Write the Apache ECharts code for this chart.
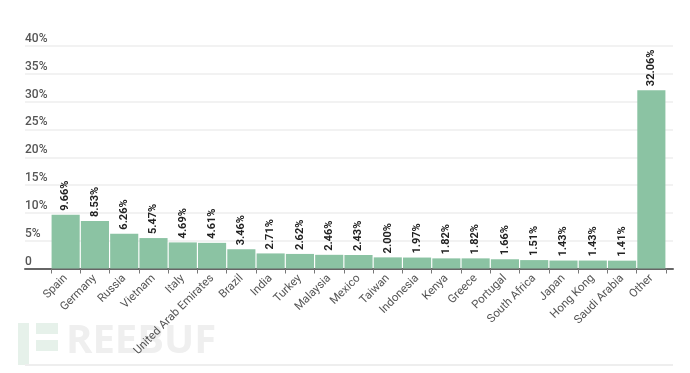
<!DOCTYPE html>
<html><head><meta charset="utf-8">
<script src="https://cdn.jsdelivr.net/npm/echarts@6/dist/echarts.min.js"></script>
<style>html,body{margin:0;padding:0;background:#fff}#c{width:690px;height:373px}</style>
</head><body><div id="c"></div>
<script>
const categories = ["Spain","Germany","Russia","Vietnam","Italy","United Arab Emirates","Brazil","India","Turkey","Malaysia","Mexico","Taiwan","Indonesia","Kenya","Greece","Portugal","South Africa","Japan","Hong Kong","Saudi Arabia","Other"];
const shares = [9.66,8.53,6.26,5.47,4.69,4.61,3.46,2.71,2.62,2.46,2.43,2.00,1.97,1.82,1.82,1.66,1.51,1.43,1.43,1.41,32.06];
const yTicks = [0,5,10,15,20,25,30,35,40];

const chart = echarts.init(document.getElementById('c'), null, {renderer:'canvas'});
const FONT = 'Roboto, "DejaVu Sans", sans-serif';
chart.setOption({
  animation:false,
  grid:[
    {left:25, right:17, top:46, bottom:104.5},
    {left:51, right:24, top:46, bottom:104.5}
  ],
  xAxis:[
    {gridIndex:0, type:'value', min:0, max:1, show:true,
     axisLine:{show:true, lineStyle:{color:'#666', width:2}},
     axisTick:{show:false}, axisLabel:{show:false}, splitLine:{show:false}},
    {gridIndex:1, type:'category', data:categories,
     axisLine:{show:false},
     axisTick:{show:true, length:5, lineStyle:{color:'#777', width:1}},
     axisLabel:{rotate:45, color:'#555', fontSize:11.5, fontFamily:FONT, margin:8, interval:0}}
  ],
  yAxis:[
    {gridIndex:0, type:'value', min:yTicks[0], max:yTicks[yTicks.length-1], interval:5,
     axisLine:{show:false}, axisTick:{show:false},
     splitLine:{lineStyle:{color:'#eeeeee', width:1.5}},
     axisLabel:{inside:true, margin:0, align:'left', verticalAlign:'bottom', padding:[0,0,1,0],
       color:'#555', fontSize:12, fontWeight:500, fontFamily:FONT,
       formatter:v => v===0 ? '0' : v+'%'}},
    {gridIndex:1, type:'value', min:0, max:40, show:false}
  ],
  series:[{
    type:'bar', xAxisIndex:1, yAxisIndex:1, data:shares,
    barCategoryGap:'4%',
    itemStyle:{color:'#8bc3a3'},
    label:{show:true, position:'top', rotate:90, align:'left', verticalAlign:'middle', distance:4,
      color:'#222', fontSize:11, fontWeight:'bold', fontFamily:FONT,
      formatter:p => p.value.toFixed(2)+'%'}
  }],
  graphic:[
    {type:'rect', left:18, top:323, shape:{width:11, height:42}, style:{fill:'#e6f1ea'}, silent:true},
    {type:'rect', left:36, top:323, shape:{width:22, height:11}, style:{fill:'#e6f1ea'}, silent:true},
    {type:'rect', left:36, top:340, shape:{width:22, height:11}, style:{fill:'#e6f1ea'}, silent:true},
    {type:'text', left:66, top:322, style:{text:'REEBUF', fill:'#efefef', font:'bold 40px "Open Sans", sans-serif'}, silent:true},
    {type:'rect', left:25, top:364, shape:{width:648, height:2}, style:{fill:'#eeeeee'}, silent:true}
  ]
});
</script></body></html>
